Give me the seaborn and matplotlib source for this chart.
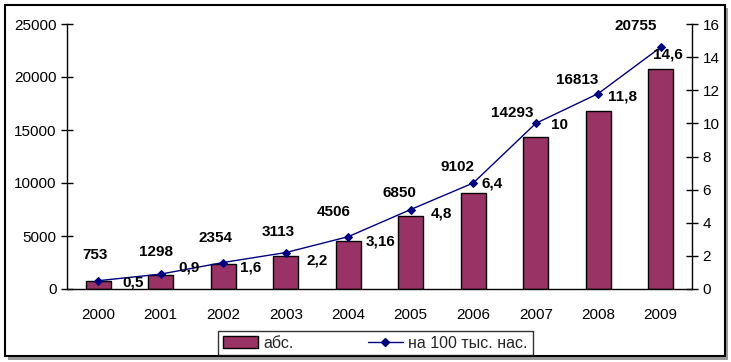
import matplotlib
matplotlib.use("Agg")
import matplotlib.pyplot as plt
import seaborn as sns
import pandas as pd
from matplotlib.patches import Rectangle
from matplotlib.lines import Line2D
from matplotlib.patches import Patch

years = ["2000", "2001", "2002", "2003", "2004", "2005", "2006", "2007", "2008", "2009"]
absolute = [753, 1298, 2354, 3113, 4506, 6850, 9102, 14293, 16813, 20755]
per100k = [0.5, 0.9, 1.6, 2.2, 3.16, 4.8, 6.4, 10, 11.8, 14.6]
per100k_labels = ["0,5", "0,9", "1,6", "2,2", "3,16", "4,8", "6,4", "10", "11,8", "14,6"]
legend_labels = ["абс.", "на 100 тыс. нас."]

# label placement offsets (pixels)
bar_label_off = [(-3, 26), (-5, 23), (-8, 26), (-8, 24), (-15, 29), (-11, 23),
                 (-16, 26), (-23, 24), (-21, 31), (-25, 43)]
line_label_off = [(35, -2), (28, 7), (27, -5), (31, -8), (32, -5), (31, -4),
                  (19, 0), (24, -2), (24, -3), (7, -7)]

sns.set_style("white")
plt.rcParams["font.family"] = ["Liberation Sans", "DejaVu Sans"]

BAR = "#993366"
LINE = "#000080"

df = pd.DataFrame({"year": years, "abs": absolute, "rate": per100k,
                   "pos": list(range(len(years)))})

fig = plt.figure(figsize=(7.31, 3.62), dpi=100)
W, H = 731, 362
ax = fig.add_axes([67 / W, 1 - 289 / H, (692 - 67) / W, (289 - 24) / H])

sns.barplot(data=df, x="year", y="abs", color=BAR, width=0.4, saturation=1,
            edgecolor="black", linewidth=1, ax=ax)
ax.set_xlim(-0.5, len(years) - 0.5)
ax.set_ylim(0, 25000)
ax.set_yticks(range(0, 25001, 5000))
ax.set_xlabel("")
ax.set_ylabel("")

ax2 = ax.twinx()
sns.lineplot(data=df, x="pos", y="rate", color=LINE, linewidth=1, marker="D",
             markersize=4.5, markeredgecolor=LINE, ax=ax2)
ax2.set_ylim(0, 16)
ax2.set_yticks(range(0, 17, 2))
ax2.set_xlim(-0.5, len(years) - 0.5)
ax2.set_ylabel("")
ax2.set_xlabel("")

for a in (ax, ax2):
    for s in a.spines.values():
        s.set_color("black")
        s.set_linewidth(1)
    a.spines["top"].set_visible(False)
    a.tick_params(axis="y", direction="inout", length=9, width=1, labelsize=11,
                  colors="black", pad=3)
ax.spines["right"].set_visible(False)
ax2.spines["left"].set_visible(False)
ax2.spines["bottom"].set_visible(False)

# x ticks: labels at centres, tick marks at category boundaries
ax.set_xticks(range(len(years)))
ax.set_xticklabels(years)
ax.tick_params(axis="x", which="major", length=0, labelsize=11, pad=14, colors="black")
ax.set_xticks([i - 0.5 for i in range(len(years) + 1)], minor=True)
ax.tick_params(axis="x", which="minor", direction="inout", length=9, width=1, color="black")
ax.grid(False)
ax2.grid(False)

for i, v in enumerate(absolute):
    dx, dy = bar_label_off[i]
    ax.annotate(str(v), xy=(i, v), xytext=(dx, dy), textcoords="offset pixels",
                ha="center", va="center", fontsize=11, fontweight="bold", color="black")
for i, v in enumerate(per100k):
    dx, dy = line_label_off[i]
    ax2.annotate(per100k_labels[i], xy=(i, v), xytext=(dx, dy), textcoords="offset pixels",
                 ha="center", va="center", fontsize=11, fontweight="bold", color="black")

handles = [Patch(facecolor=BAR, edgecolor="black", linewidth=1),
           Line2D([0], [0], color=LINE, linewidth=1, marker="D", markersize=4)]
leg = fig.legend(handles, legend_labels, loc="center", bbox_to_anchor=(375.5 / W, 1 - 343 / H),
                 ncol=2, frameon=True, fancybox=False, fontsize=11.5, columnspacing=4.6,
                 handlelength=2.2, handletextpad=0.35, borderpad=0.3, borderaxespad=0)
leg.get_frame().set_edgecolor("black")
leg.get_frame().set_linewidth(1)

# outer frame with shadow
fig.patches.append(Rectangle((8 / W, 1 - 360 / H), 720 / W, 352 / H, transform=fig.transFigure,
                             facecolor="#9a9a9a", edgecolor="none", zorder=-2))
fig.patches.append(Rectangle((5 / W, 1 - 356 / H), 720 / W, 351 / H, transform=fig.transFigure,
                             facecolor="white", edgecolor="black", linewidth=1.5, zorder=-1))

fig.savefig("out.png", dpi=100)
